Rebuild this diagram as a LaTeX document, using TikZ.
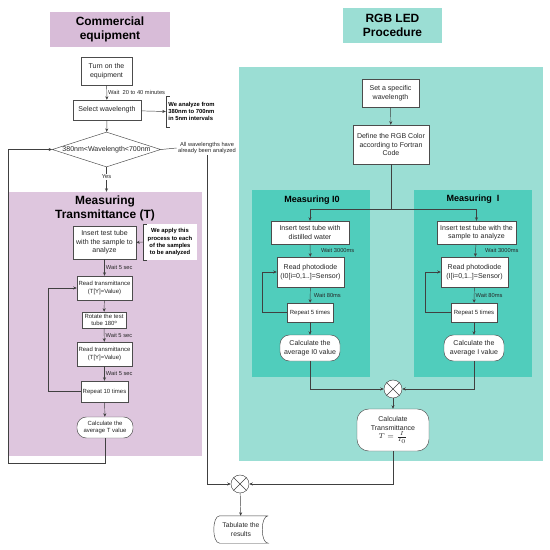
\documentclass[tikz,border=0pt]{standalone}
\usepackage{amsmath}
\usepackage{fontspec}
\setmainfont{Liberation Sans}
\usetikzlibrary{positioning,shapes.geometric,arrows.meta}
\definecolor{purpleBg}{RGB}{222,198,222}
\definecolor{purpleHead}{RGB}{216,188,216}
\definecolor{tealBg}{RGB}{155,222,212}
\definecolor{tealIn}{RGB}{80,205,188}

\begin{document}
\begin{tikzpicture}[x=0.03cm,y=-0.03cm,
    sz/.style 2 args={minimum width=#1*0.03cm,minimum height=#2*0.03cm},
    box/.style={rectangle,draw=black!70,fill=white,align=center,inner sep=1pt,text=black!85,font=\fontsize{6}{7.2}\selectfont},
    sbox/.style={box,font=\fontsize{5.1}{6.3}\selectfont},
    pill/.style={rounded corners=8pt},
    panel/.style={rectangle,inner sep=0pt},
    head/.style={rectangle,align=center,inner sep=0pt,font=\fontsize{10.2}{12.5}\selectfont\bfseries},
    subhead/.style={font=\fontsize{7.7}{9}\selectfont\bfseries},
    lbl/.style={font=\fontsize{4.9}{5.8}\selectfont,text=black!85,inner sep=1pt},
    note/.style={align=left,inner sep=1pt,font=\fontsize{5}{6}\selectfont\bfseries},
    arr/.style={draw=black!75,-{Stealth[length=3pt,width=2.6pt]}},
    ln/.style={draw=black!75},
    mix/.style={circle,draw=black!75,fill=white,minimum size=0.54cm,inner sep=0pt},
]
    \useasboundingbox (0,0) rectangle (550,549);

    % Panels
    \node[panel,fill=purpleBg,sz={194}{264}] (measT) at (105,324) {};
    \node[panel,fill=tealBg,sz={304}{394}] (rgbP) at (391,264) {};
    \node[panel,fill=tealIn,sz={118}{187}] (mI0) at (311,283.5) {};
    \node[panel,fill=tealIn,sz={118}{187}] (mI) at (473,283.5) {};

    % Titles
    \node[head,fill=purpleHead,sz={120}{35}] (headA) at (110,29.5) {Commercial\\equipment};
    \node[head,fill=tealBg,sz={99}{35}] (headB) at (392.5,25.5) {RGB LED\\Procedure};
    \node[head] (headT) at (105,208.5) {Measuring\\Transmittance (T)};
    \node[subhead] (headI0) at (312,200) {Measuring I0};
    \node[subhead] (headI) at (473,199) {Measuring\ \ I};

    % Commercial equipment
    \node[box,sz={51}{28}] (turnon) at (106.5,71) {Turn on the\\equipment};
    \node[box,sz={68}{20}] (select) at (107,110) {Select wavelength};
    \node[note,sz={51}{31}] (note1) at (191.5,111.5) {We analyze from\\380nm to 700nm\\in 5nm intervals};
    \node[box,diamond,aspect=3.1,inner sep=0pt] (dia) at (106.5,149.5) {380nm<Wavelength<700nm};
    \node[lbl,align=center] (done) at (207,148) {All wavelengths have\\already been analyzed};

    % Measuring transmittance
    \node[box,sz={63}{33}] (ins) at (104.5,242.5) {Insert test tube\\with the sample to\\analyze};
    \node[note,align=center,fill=white,sz={54}{36}] (note2) at (170,242) {We apply this\\process to each\\of the samples\\to be analyzed};
    \node[sbox,sz={55}{24}] (rd1) at (104.5,288) {Read transmittance\\(T[Y]=Value)};
    \node[sbox,sz={44}{16}] (rot) at (104,320) {Rotate the test\\tube 180º};
    \node[sbox,sz={55}{24}] (rd2) at (104.5,354) {Read transmittance\\(T[Y]=Value)};
    \node[sbox,sz={47}{21}] (rep) at (104.5,391.5) {Repeat 10 times};
    \node[sbox,pill,sz={56}{21}] (calcT) at (105,427.5) {Calculate the\\average T value};

    % RGB LED procedure
    \node[box,sz={57}{28}] (setw) at (390.5,93) {Set a specific\\wavelength};
    \node[box,sz={76}{39}] (defc) at (391,144.5) {Define the RGB Color\\according to Fortran\\Code};

    \node[box,sz={78}{23}] (ins0) at (310,232.5) {Insert test tube with\\distilled water};
    \node[box,sz={67}{30}] (rd0) at (310.5,272) {Read photodiode\\(I0[i=0,1..]=Sensor)};
    \node[sbox,sz={46}{19}] (rp0) at (310,312.5) {Repeat 5 times};
    \node[box,pill,sz={60}{26}] (cl0) at (310,348) {Calculate the\\average I0 value};

    \node[box,sz={79}{23}] (ins1) at (476.5,232.5) {Insert test tube with the\\sample to analyze};
    \node[box,sz={67}{30}] (rdI) at (474.5,272) {Read photodiode\\(I[i=0,1..]=Sensor)};
    \node[sbox,sz={46}{19}] (rp1) at (474,312.5) {Repeat 5 times};
    \node[box,pill,sz={60}{26}] (cl1) at (474,348) {Calculate the\\average I value};

    \node[mix] (mixB) at (393,389) {};
    \node[box,rounded corners=10pt,sz={72}{42}] (calcTr) at (393,430) {Calculate\\Transmittance\\$T=\frac{I}{I_0}$};

    % Results
    \node[mix] (mixA) at (240,484) {};
    \node[box,draw=none,fill=none,font=\fontsize{5.8}{7}\selectfont,sz={54}{27}] (tab) at (241,529.5) {Tabulate the\\results};

    % Mixer crosses and stored data outline
    \draw[ln] (mixA.north west) -- (mixA.south east) (mixA.north east) -- (mixA.south west);
    \draw[ln] (mixB.north west) -- (mixB.south east) (mixB.north east) -- (mixB.south west);
    \draw[ln] (tab.north east) -- ([xshift=0.18cm]tab.north west)
        .. controls ([xshift=-0.06cm]tab.north west) and ([xshift=-0.06cm]tab.south west) .. ([xshift=0.18cm]tab.south west)
        -- (tab.south east)
        .. controls ([xshift=-0.24cm]tab.south east) and ([xshift=-0.24cm]tab.north east) .. (tab.north east);

    % Brackets of the notes
    \draw[ln] ([xshift=0.12cm]note1.north west) -- (note1.north west) -- (note1.south west) -- ([xshift=0.12cm]note1.south west);
    \draw[ln] ([xshift=0.12cm]note2.north west) -- (note2.north west) -- (note2.south west) -- ([xshift=0.12cm]note2.south west);

    % Connectors, commercial equipment
    \draw[arr] (turnon) -- (select) node[midway,right,lbl] {Wait\ \ 20 to 40 minutes};
    \draw[arr] (select) -- (note1.west);
    \draw[arr] (select) -- (dia);
    \draw[ln] (dia.east) -- (done.west);
    \draw[arr] (dia.south) -- (dia.south |- measT.north) node[pos=0.4,fill=white,lbl] {Yes};
    \draw[arr] (note2.west) -- (ins.east);
    \draw[arr] (ins) -- (rd1) node[midway,right,lbl] {Wait 5 sec};
    \draw[arr] (rd1) -- (rot);
    \draw[arr] (rot) -- (rd2) node[midway,right,lbl] {Wait 5 sec};
    \draw[arr] (rd2) -- (rep) node[midway,right,lbl] {Wait 5 sec};
    \draw[arr] (rep) -- (calcT);
    \draw[arr] (rep.west) -- ++(-33,0) |- (rd1.west);
    \draw[arr] (calcT.south) |- (8,463) |- (dia.west);

    % Connectors, RGB LED
    \draw[arr] (setw) -- (defc);
    \draw[ln] (defc.south) -- (391,209) coordinate (split);
    \draw[arr] (split) -| (ins0);
    \draw[arr] (split) -| (ins1);
    \draw[arr] (ins0) -- (rd0) node[midway,right,lbl,xshift=8pt] {Wait 3000ms};
    \draw[arr] (rd0) -- (rp0) node[midway,right,lbl,xshift=2pt] {Wait 80ms};
    \draw[arr] (rp0) -- (cl0);
    \draw[arr] (rp0.west) -- ++(-25,0) |- (rd0.west);
    \draw[arr] (ins1) -- (rdI) node[midway,right,lbl,xshift=7pt] {Wait 3000ms};
    \draw[arr] (rdI) -- (rp1) node[midway,right,lbl] {Wait 80ms};
    \draw[arr] (rp1) -- (cl1);
    \draw[arr] (rp1.west) -- ++(-26,0) |- (rdI.west);
    \draw[arr] (cl0.south) |- (mixB.west);
    \draw[arr] (cl1.south) |- (mixB.east);
    \draw[arr] (mixB) -- (calcTr);

    % Joining both procedures
    \draw[arr] (calcTr.south) |- (mixA.east);
    \draw[arr] (done.south) |- (mixA.west);
    \draw[arr] (mixA) -- (tab);
\end{tikzpicture}
\end{document}
